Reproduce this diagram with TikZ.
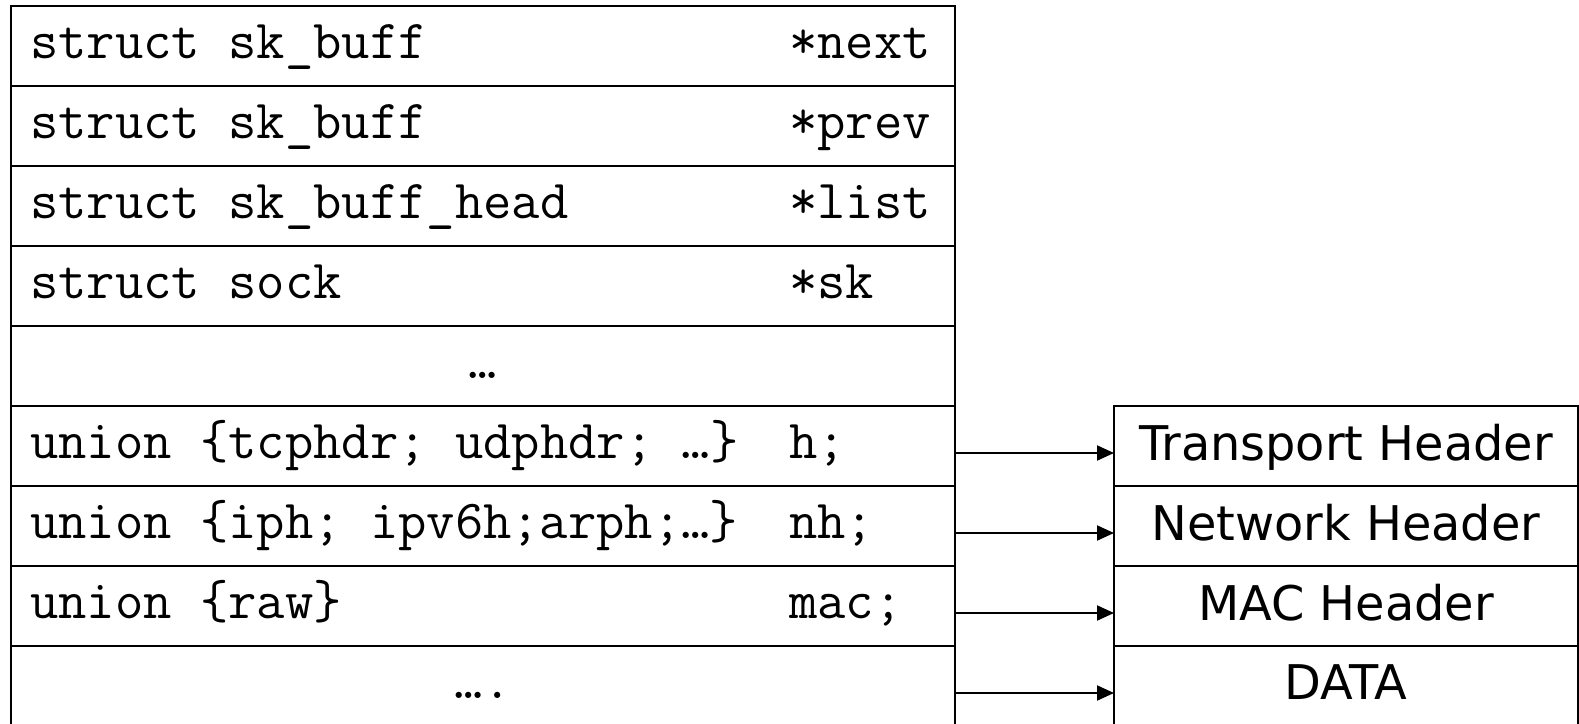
\documentclass[tikz,border=0pt]{standalone}
\usepackage{fontspec}
\newfontfamily\hdrfont{DejaVu Sans}
\usetikzlibrary{arrows.meta}

\begin{document}
\begin{tikzpicture}[x=1pt,y=-1pt,
  field/.style={draw, line width=2.4pt, minimum width=944pt, minimum height=80pt,
                inner sep=0pt, outer sep=0pt},
  layer/.style={draw, line width=2.4pt, minimum width=464pt, minimum height=80pt,
                inner sep=0pt, outer sep=0pt},
  code/.style={font=\ttfamily\fontsize{55}{58}\selectfont, anchor=base west, inner sep=0pt},
  codemid/.style={font=\ttfamily\fontsize{55}{58}\selectfont, anchor=base, inner sep=0pt},
  hdr/.style={font=\hdrfont\fontsize{47.8}{50}\selectfont, anchor=base, inner sep=0pt},
  ptr/.style={line width=2pt, -{Triangle[length=17pt,width=15pt]}}]

\useasboundingbox (0,0) rectangle (1579,723);
\clip (0,0) rectangle (1579,723);

% sk_buff fields, one row each
\node[field] (fnext) at (483,46)  {};
\node[field] (fprev) at (483,126) {};
\node[field] (flist) at (483,206) {};
\node[field] (fsk)   at (483,286) {};
\node[field] (fgap)  at (483,366) {};
\node[field] (fh)    at (483,446) {};
\node[field] (fnh)   at (483,526) {};
\node[field] (fmac)  at (483,606) {};
\node[field] (ftail) at (483,686) {};

% field types (left column) and names (right column)
\node[code] (tnext) at (30,58)  {struct sk\_buff};
\node[code] (tprev) at (30,138) {struct sk\_buff};
\node[code] (tlist) at (30,218) {struct sk\_buff\_head};
\node[code] (tsk)   at (30,298) {struct sock};
\node[code] (th)    at (30,458) {union \{tcphdr; udphdr; …\}};
\node[code] (tnh)   at (30,538) {union \{iph; ipv6h;arph;…\}};
\node[code] (tmac)  at (30,618) {union \{raw\}};

\node[code] (nnext) at (789,58)  {*next};
\node[code] (nprev) at (789,138) {*prev};
\node[code] (nlist) at (789,218) {*list};
\node[code] (nsk)   at (789,298) {*sk};
\node[code] (nh)    at (789,458) {h;};
\node[code] (nnh)   at (789,538) {nh;};
\node[code] (nmac)  at (789,618) {mac;};

\node[codemid] (dgap)  at (483,378) {…};
\node[codemid] (dtail) at (483,698) {….};

% packet layers
\node[layer] (ltr)  at (1346,446) {};
\node[layer] (lnet) at (1346,526) {};
\node[layer] (lmac) at (1346,606) {};
\node[layer] (ldat) at (1346,686) {};

\node[hdr] (xtr)  at (1346,460) {Transport Header};
\node[hdr] (xnet) at (1346,540) {Network Header};
\node[hdr] (xmac) at (1346,620) {MAC Header};
\node[hdr] (xdat) at (1346,699) {DATA};

% pointers into the packet
\draw[ptr] ([yshift=-7pt]fh.east)    -- ([yshift=-7pt]ltr.west);
\draw[ptr] ([yshift=-7pt]fnh.east)   -- ([yshift=-7pt]lnet.west);
\draw[ptr] ([yshift=-7pt]fmac.east)  -- ([yshift=-7pt]lmac.west);
\draw[ptr] ([yshift=-7pt]ftail.east) -- ([yshift=-7pt]ldat.west);
\end{tikzpicture}
\end{document}
